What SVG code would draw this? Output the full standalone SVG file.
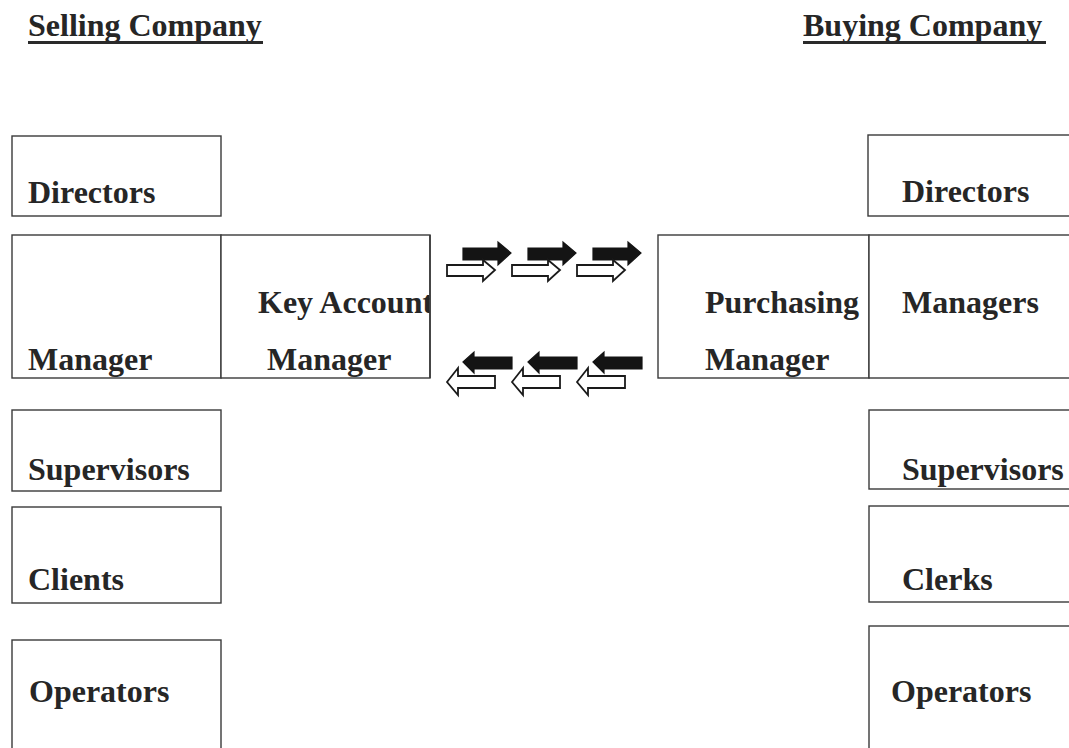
<svg xmlns="http://www.w3.org/2000/svg" width="1069" height="748" viewBox="0 0 1069 748">
  <style>
    .box { fill: #ffffff; stroke: #3a3a3a; stroke-width: 1.4; }
    .lbl { font-family: "Liberation Serif", "Times New Roman", serif; font-weight: bold; font-size: 32px; fill: #262626; }
    .title { font-family: "Liberation Serif", "Times New Roman", serif; font-weight: bold; font-size: 32px; fill: #262626; }
    .uline { fill: #2a2a2a; }
    .solid { fill: #141414; stroke: #141414; stroke-width: 1.2; stroke-linejoin: miter; }
    .hollow { fill: #ffffff; stroke: #1a1a1a; stroke-width: 1.8; stroke-linejoin: miter; }
  </style>
  <defs>
    <clipPath id="kamClip"><rect x="221" y="235" width="209" height="143"/></clipPath>
    <clipPath id="pageClip"><rect x="0" y="0" width="1069" height="748"/></clipPath>
  </defs>

  <rect x="0" y="0" width="1069" height="748" fill="#ffffff"/>

  <!-- headings -->
  <g id="heading-selling">
    <text class="title" x="28" y="36">Selling Company</text>
    <rect class="uline" x="28" y="41" width="235" height="3"/>
  </g>
  <g id="heading-buying">
    <text class="title" x="803" y="36">Buying Company</text>
    <rect class="uline" x="803" y="41" width="243" height="3"/>
  </g>

  <!-- selling company hierarchy -->
  <g id="sell-directors">
    <rect class="box" x="12" y="136" width="209" height="80"/>
    <text class="lbl" x="28" y="203">Directors</text>
  </g>
  <g id="sell-manager">
    <rect class="box" x="12" y="235" width="209" height="143"/>
    <text class="lbl" x="28" y="370">Manager</text>
  </g>
  <g id="sell-key-account-manager">
    <rect class="box" x="221" y="235" width="209" height="143"/>
    <g clip-path="url(#kamClip)">
      <text class="lbl" x="258" y="313">Key Account</text>
    </g>
    <line x1="430" y1="235" x2="430" y2="378" stroke="#3a3a3a" stroke-width="1.6"/>
    <text class="lbl" x="267" y="370">Manager</text>
  </g>
  <g id="sell-supervisors">
    <rect class="box" x="12" y="410" width="209" height="81"/>
    <text class="lbl" x="28" y="480">Supervisors</text>
  </g>
  <g id="sell-clients">
    <rect class="box" x="12" y="507" width="209" height="96"/>
    <text class="lbl" x="28" y="590">Clients</text>
  </g>
  <g id="sell-operators">
    <rect class="box" x="12" y="640" width="209" height="130"/>
    <text class="lbl" x="29" y="702">Operators</text>
  </g>

  <!-- buying company hierarchy (boxes run past the right edge) -->
  <g clip-path="url(#pageClip)">
    <g id="buy-directors">
      <rect class="box" x="868" y="135" width="220" height="81"/>
      <text class="lbl" x="902" y="202">Directors</text>
    </g>
    <g id="buy-purchasing-manager">
      <rect class="box" x="658" y="235" width="211" height="143"/>
      <text class="lbl" x="705" y="313">Purchasing</text>
      <text class="lbl" x="705" y="370">Manager</text>
    </g>
    <g id="buy-managers">
      <rect class="box" x="869" y="235" width="220" height="143"/>
      <text class="lbl" x="902" y="313">Managers</text>
    </g>
    <g id="buy-supervisors">
      <rect class="box" x="869" y="410" width="220" height="79"/>
      <text class="lbl" x="902" y="480">Supervisors</text>
    </g>
    <g id="buy-clerks">
      <rect class="box" x="869" y="506" width="220" height="96"/>
      <text class="lbl" x="902" y="590">Clerks</text>
    </g>
    <g id="buy-operators">
      <rect class="box" x="869" y="626" width="220" height="140"/>
      <text class="lbl" x="891" y="702">Operators</text>
    </g>
  </g>

  <!-- information flow arrows between the two companies -->
  <defs>
    <polygon id="solidRight" points="0,5 35,5 35,-1 48,10 35,22 35,17 0,17"/>
    <polygon id="hollowRight" points="0,3 36,3 36,-2 48,8 36,19 36,14 0,14"/>
    <polygon id="solidLeft" points="0,9 11,-1 11,4 49,4 49,16 11,16 11,20"/>
    <polygon id="hollowLeft" points="0,14 11,0 11,8 48,8 48,20 11,20 11,27"/>
  </defs>
  <g id="connectors">
    <g id="flow-to-buyer">
      <use href="#solidRight" class="solid" x="463" y="243"/>
      <use href="#hollowRight" class="hollow" x="447" y="262"/>
      <use href="#solidRight" class="solid" x="528" y="243"/>
      <use href="#hollowRight" class="hollow" x="512" y="262"/>
      <use href="#solidRight" class="solid" x="593" y="243"/>
      <use href="#hollowRight" class="hollow" x="577" y="262"/>
    </g>
    <g id="flow-to-seller">
      <use href="#solidLeft" class="solid" x="463" y="353"/>
      <use href="#hollowLeft" class="hollow" x="447" y="368"/>
      <use href="#solidLeft" class="solid" x="528" y="353"/>
      <use href="#hollowLeft" class="hollow" x="512" y="368"/>
      <use href="#solidLeft" class="solid" x="593" y="353"/>
      <use href="#hollowLeft" class="hollow" x="577" y="368"/>
    </g>
  </g>
</svg>
